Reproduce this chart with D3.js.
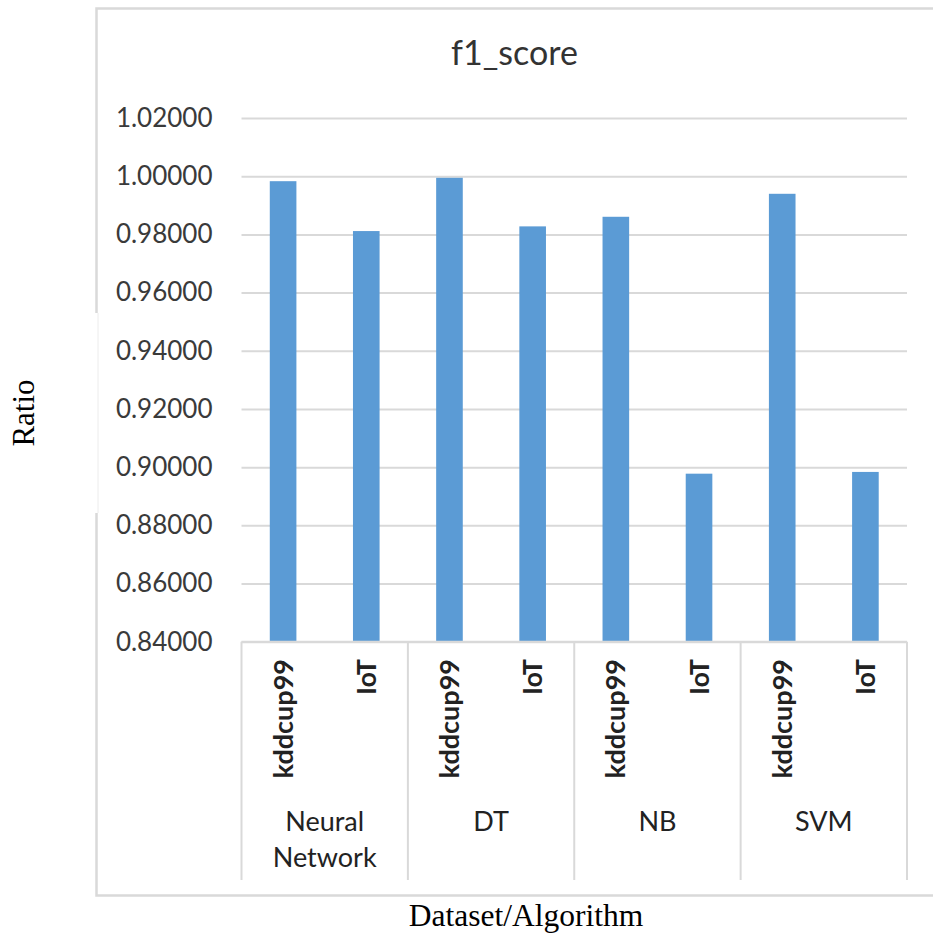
<!DOCTYPE html>
<html>
<head>
<meta charset="utf-8">
<script src="https://cdn.jsdelivr.net/npm/d3@7"></script>
<style>
  html, body { margin: 0; padding: 0; background: #fff; }
  svg { display: block; }
</style>
</head>
<body>
<svg id="chart" width="933" height="934"></svg>
<script>
// f1_score by algorithm and dataset
const algorithms = ["Neural Network", "DT", "NB", "SVM"];
const datasets = ["kddcup99", "IoT"];
const kddcup99Scores = [0.99828, 0.99945, 0.98605, 0.99395];
const iotScores = [0.98114, 0.98275, 0.89775, 0.89835];
const yTicks = [0.84, 0.86, 0.88, 0.90, 0.92, 0.94, 0.96, 0.98, 1.00, 1.02];

const rows = algorithms.flatMap((alg, i) => [
  { alg, ds: datasets[0], value: kddcup99Scores[i] },
  { alg, ds: datasets[1], value: iotScores[i] }
]);

const svg = d3.select("#chart");
const gridColor = "#d9d9d9";
const labelFont = "Lato, 'Open Sans', sans-serif";
const serifFont = "'Liberation Serif', 'Times New Roman', serif";

const plot = { left: 241.5, right: 907, top: 118, bottom: 641.7 };

// chart frame
svg.append("rect")
  .attr("x", 96.5).attr("y", 8.5)
  .attr("width", 900).attr("height", 887)
  .attr("fill", "#fff")
  .attr("stroke", gridColor).attr("stroke-width", 2.5);

// white patch over the frame where the axis caption sits
svg.append("rect")
  .attr("x", 0).attr("y", 313).attr("width", 98).attr("height", 200)
  .attr("fill", "#fff");
svg.append("line")
  .attr("x1", 98).attr("x2", 98).attr("y1", 313).attr("y2", 513)
  .attr("stroke", "#ececec").attr("stroke-width", 1);

const y = d3.scaleLinear()
  .domain([0.84, 1.02])
  .range([plot.bottom, plot.top]);

const xGroup = d3.scaleBand()
  .domain(algorithms)
  .range([plot.left, plot.right])
  .padding(0);

const xSub = d3.scaleBand()
  .domain(datasets)
  .range([0, xGroup.bandwidth()])
  .paddingInner(0.68)
  .paddingOuter(0.34);

// gridlines
const yAxis = d3.axisLeft(y)
  .tickValues(yTicks)
  .tickSize(-(plot.right - plot.left))
  .tickFormat(d3.format(".5f"))
  .tickPadding(29);

const gy = svg.append("g")
  .attr("transform", `translate(${plot.left},0)`)
  .call(yAxis);
gy.select(".domain").remove();
gy.selectAll(".tick line")
  .attr("stroke", gridColor).attr("stroke-width", 2);
gy.selectAll(".tick text")
  .attr("font-family", labelFont)
  .attr("font-size", 26)
  .attr("fill", "#3a3a3a");

// bars
svg.append("g")
  .selectAll("rect")
  .data(rows)
  .join("rect")
  .attr("x", d => xGroup(d.alg) + xSub(d.ds))
  .attr("width", xSub.bandwidth())
  .attr("y", d => y(d.value))
  .attr("height", d => y(0.84) - y(d.value))
  .attr("fill", "#5b9bd5");

// category axis line and group separators
svg.append("line")
  .attr("x1", plot.left).attr("x2", plot.right)
  .attr("y1", plot.bottom).attr("y2", plot.bottom)
  .attr("stroke", gridColor).attr("stroke-width", 2);

const bounds = algorithms.map(a => xGroup(a)).concat([plot.right]);
svg.append("g")
  .selectAll("line")
  .data(bounds)
  .join("line")
  .attr("x1", d => d).attr("x2", d => d)
  .attr("y1", plot.bottom).attr("y2", 880)
  .attr("stroke", gridColor).attr("stroke-width", 2);

// dataset labels (rotated)
svg.append("g")
  .selectAll("text")
  .data(rows)
  .join("text")
  .attr("transform", d => {
    const cx = xGroup(d.alg) + xSub(d.ds) + xSub.bandwidth() / 2;
    return `translate(${cx + 9.5},659) rotate(-90)`;
  })
  .attr("text-anchor", "end")
  .attr("font-family", labelFont)
  .attr("font-size", 27)
  .attr("font-weight", 700)
  .attr("fill", "#222")
  .text(d => d.ds);

// algorithm labels
const groupLabels = svg.append("g")
  .selectAll("text")
  .data(algorithms)
  .join("text")
  .attr("x", d => xGroup(d) + xGroup.bandwidth() / 2)
  .attr("y", 831)
  .attr("text-anchor", "middle")
  .attr("font-family", labelFont)
  .attr("font-size", 27)
  .attr("fill", "#222");
groupLabels.each(function(d) {
  const words = d.split(" ");
  const t = d3.select(this);
  words.forEach((w, i) => {
    t.append("tspan")
      .attr("x", xGroup(d) + xGroup.bandwidth() / 2)
      .attr("dy", i === 0 ? 0 : 36)
      .text(w);
  });
});

// title
svg.append("text")
  .attr("x", 514.5).attr("y", 65)
  .attr("text-anchor", "middle")
  .attr("font-family", labelFont)
  .attr("font-size", 34)
  .attr("fill", "#333")
  .text("f1_score");

// axis captions
svg.append("text")
  .attr("transform", "translate(34,413) rotate(-90)")
  .attr("text-anchor", "middle")
  .attr("font-family", serifFont)
  .attr("font-size", 31)
  .attr("fill", "#000")
  .text("Ratio");

svg.append("text")
  .attr("x", 526).attr("y", 926)
  .attr("text-anchor", "middle")
  .attr("font-family", serifFont)
  .attr("font-size", 31.5)
  .attr("fill", "#000")
  .text("Dataset/Algorithm");
</script>
</body>
</html>
